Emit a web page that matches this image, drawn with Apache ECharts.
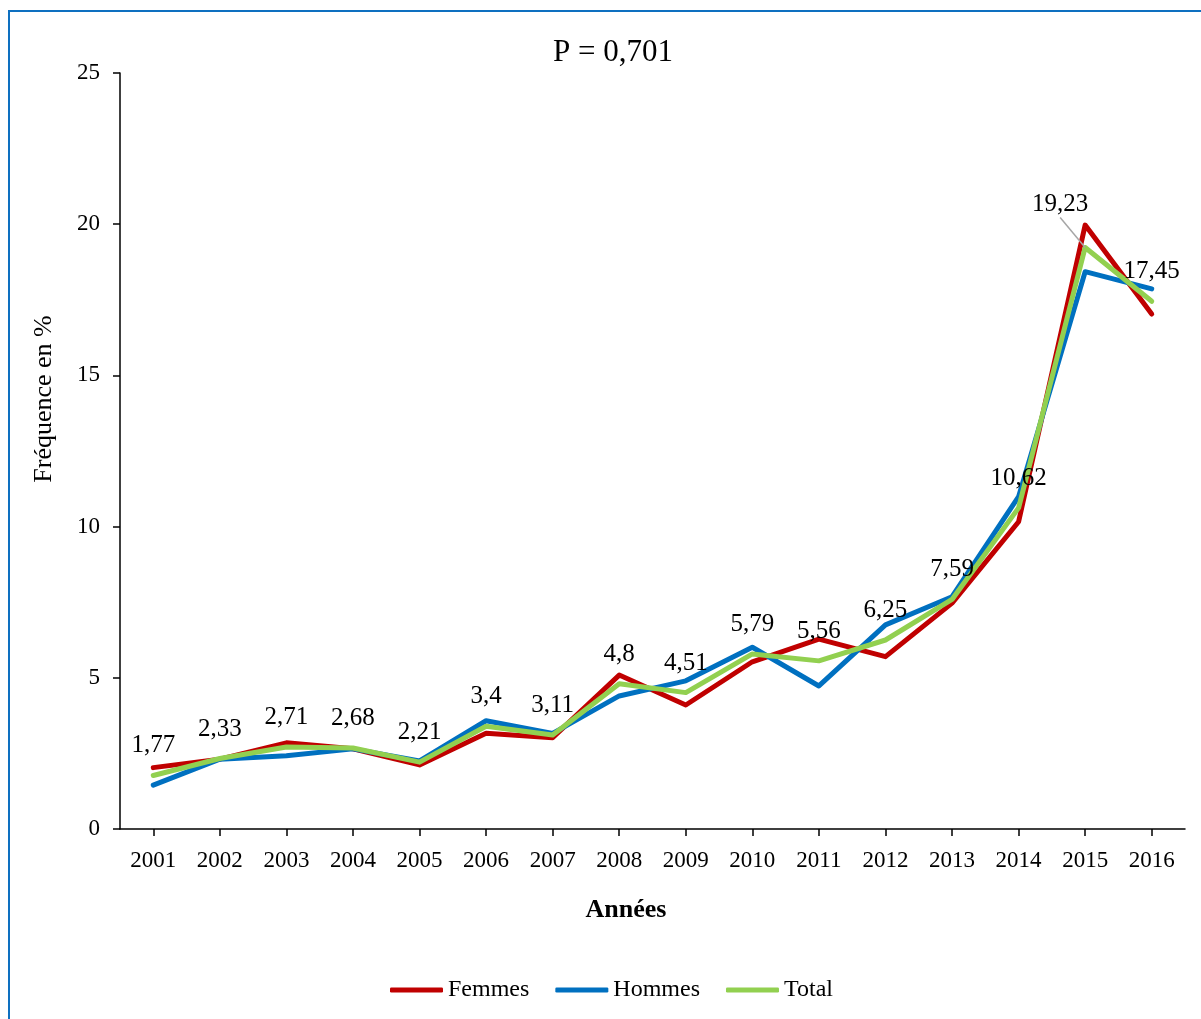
<!DOCTYPE html>
<html>
<head>
<meta charset="utf-8">
<script src="https://cdn.jsdelivr.net/npm/echarts@6/dist/echarts.min.js"></script>
<style>
html,body{margin:0;padding:0;background:#fff;}
#chart{width:1201px;height:1019px;}
</style>
</head>
<body>
<div id="chart"></div>
<script>
var years = ['2001','2002','2003','2004','2005','2006','2007','2008','2009','2010','2011','2012','2013','2014','2015','2016'];
var femmes = [2.03, 2.31, 2.85, 2.65, 2.12, 3.17, 3.02, 5.09, 4.10, 5.53, 6.28, 5.70, 7.47, 10.16, 19.97, 17.03];
var hommes = [1.45, 2.31, 2.42, 2.65, 2.25, 3.58, 3.16, 4.40, 4.90, 6.01, 4.73, 6.75, 7.68, 10.99, 18.43, 17.86];
var total = [1.77, 2.33, 2.71, 2.68, 2.21, 3.4, 3.11, 4.8, 4.51, 5.79, 5.56, 6.25, 7.59, 10.62, 19.23, 17.45];
var seriesNames = ['Femmes', 'Hommes', 'Total'];
var titleText = 'P = 0,701';
var yName = 'Fréquence en %';
var xName = 'Années';

var FONT = '"Liberation Serif", "Times New Roman", serif';
var chart = echarts.init(document.getElementById('chart'), null, {renderer: 'canvas'});

function lineSeries(name, data, color, withLabels) {
  var s = {
    name: name,
    type: 'line',
    data: data,
    symbol: withLabels ? 'circle' : 'none',
    symbolSize: 0.1,
    showSymbol: withLabels,
    itemStyle: {color: color},
    lineStyle: {color: color, width: 5, cap: 'round', join: 'round'},
    emphasis: {disabled: true},
    silent: true,
    animation: false,
    z: 2
  };
  if (withLabels) {
    s.label = {
      show: true,
      position: 'top',
      distance: 17,
      color: '#000',
      fontFamily: FONT,
      fontSize: 25,
      formatter: function (p) { return String(p.value).replace('.', ','); }
    };
    s.labelLine = {show: false};
    s.data = data.map(function (v, i) {
      if (i === 14) {
        return {value: v, labelLine: {show: true, lineStyle: {color: '#a6a6a6', width: 1.5}}};
      }
      return v;
    });
    s.labelLayout = function (params) {
      if (params.dataIndex === 14) {
        return {dx: -25, dy: -13};
      }
      return {};
    };
  }
  return s;
}

var option = {
  backgroundColor: '#fff',
  animation: false,
  title: {
    text: titleText,
    left: 548,
    top: 32,
    textStyle: {fontFamily: FONT, fontSize: 31, fontWeight: 'normal', color: '#000'}
  },
  grid: {left: 120, right: 16, top: 73, bottom: 190, containLabel: false},
  legend: {
    data: seriesNames,
    left: 385,
    top: 973,
    icon: 'roundRect',
    itemWidth: 53,
    itemHeight: 5,
    itemGap: 26,
    textStyle: {fontFamily: FONT, fontSize: 24, color: '#000'}
  },
  xAxis: {
    type: 'category',
    data: years,
    boundaryGap: true,
    axisLine: {show: true, lineStyle: {color: '#000', width: 1.5}},
    axisTick: {show: true, alignWithLabel: true, length: 7, lineStyle: {color: '#000', width: 1.5}},
    axisLabel: {color: '#000', fontFamily: FONT, fontSize: 23, margin: 20, interval: 0},
    splitLine: {show: false}
  },
  yAxis: {
    type: 'value',
    min: 0,
    max: 25,
    interval: 5,
    axisLine: {show: true, lineStyle: {color: '#000', width: 1.5}},
    axisTick: {show: true, length: 7, lineStyle: {color: '#000', width: 1.5}},
    axisLabel: {color: '#000', fontFamily: FONT, fontSize: 23, margin: 20},
    splitLine: {show: false}
  },
  graphic: [
    {
      type: 'rect',
      silent: true,
      shape: {x: 9, y: 11, width: 1400, height: 1200},
      style: {fill: 'none', stroke: '#0E70C0', lineWidth: 2},
      z: -1
    },
    {
      type: 'text',
      x: 44,
      y: 399,
      rotation: Math.PI / 2,
      style: {text: yName, fontFamily: FONT, fontSize: 26, fill: '#000', textAlign: 'center', textVerticalAlign: 'middle'}
    },
    {
      type: 'text',
      x: 626,
      y: 910,
      style: {text: xName, fontFamily: FONT, fontSize: 26, fontWeight: 'bold', fill: '#000', textAlign: 'center', textVerticalAlign: 'middle'}
    }
  ],
  series: [
    lineSeries(seriesNames[0], femmes, '#C00000', false),
    lineSeries(seriesNames[1], hommes, '#0070C0', false),
    lineSeries(seriesNames[2], total, '#92D050', true)
  ]
};
chart.setOption(option);
</script>
</body>
</html>
